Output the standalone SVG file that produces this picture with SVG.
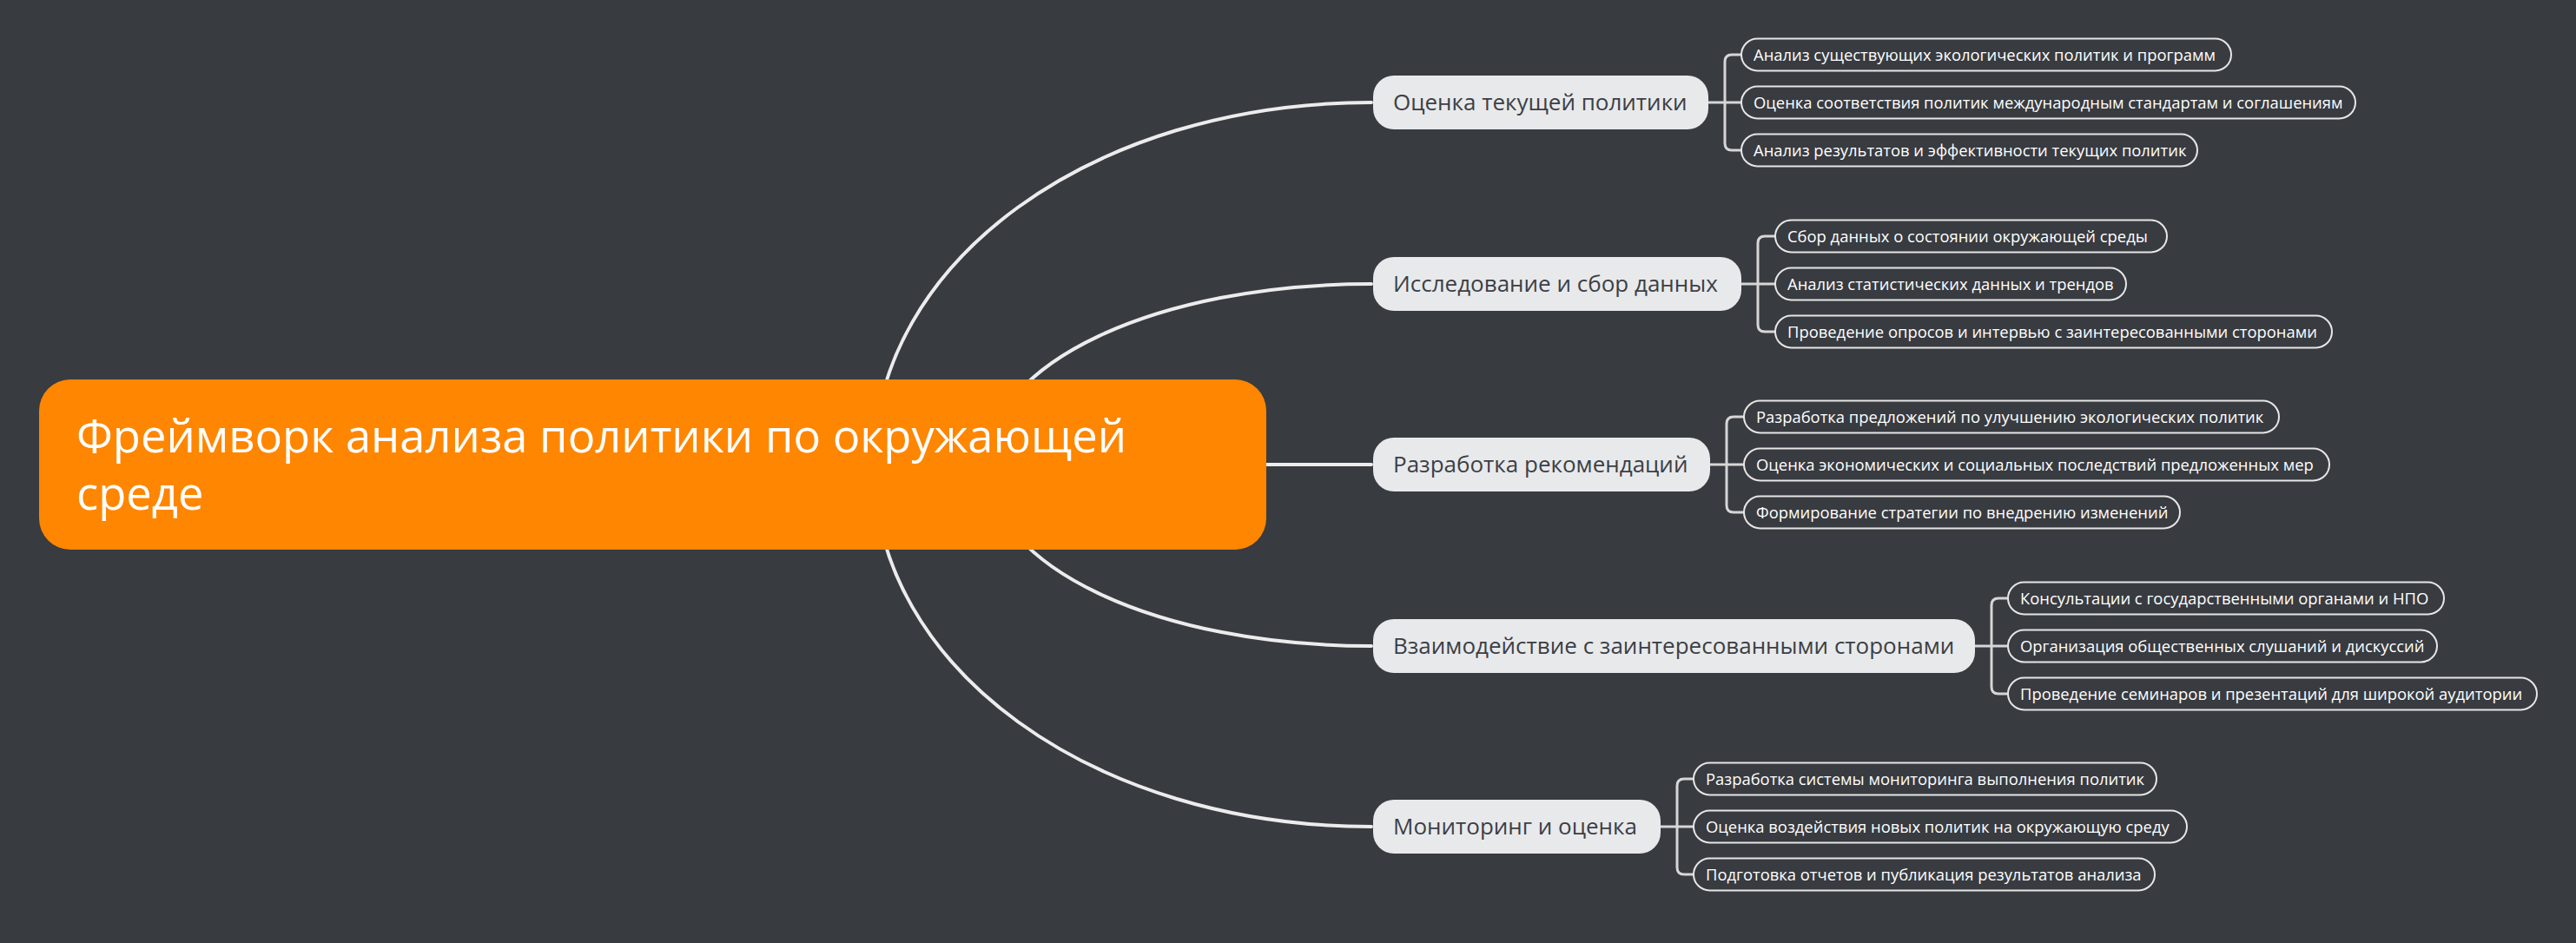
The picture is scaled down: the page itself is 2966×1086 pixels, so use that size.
<svg xmlns="http://www.w3.org/2000/svg" width="2966" height="1086" viewBox="0 0 2966 1086">
<style>
.bg{fill:#383b40}
.curve{fill:none;stroke:#ececec;stroke-width:4;stroke-linecap:round}
.brk{fill:none;stroke:#d6d6d6;stroke-width:3}
.root{fill:#ff8600}
.rootT{font-family:"Open Sans","Noto Sans",sans-serif;font-size:52.5px;fill:#ffffff}
.br{fill:#e8e9eb}
.brT{font-family:"Open Sans","Noto Sans",sans-serif;font-size:26px;fill:#3c3f45}
.ch{fill:#383b40;stroke:#e6e6e6;stroke-width:2}
.chT{font-family:"Open Sans","Noto Sans",sans-serif;font-size:18.4px;fill:#ffffff}
</style>
<rect class="bg" x="0" y="0" width="2966" height="1086"/>
<g id="connectors">
<path class="curve" d="M1006,535 C1006,301 1258,118 1579,118"/>
<path class="curve" d="M1137,535 C1137,418 1331,327 1579,327"/>
<path class="curve" d="M1400,535 H1579"/>
<path class="curve" d="M1137,535 C1137,652 1331,744 1579,744"/>
<path class="curve" d="M1006,535 C1006,769 1258,952 1579,952"/>
<path class="brk" d="M1967,118 H2005 M2005,63 H1994 Q1986,63 1986,71 V165 Q1986,173 1994,173 H2005"/>
<path class="brk" d="M2005,327 H2044 M2044,272 H2032 Q2024,272 2024,280 V374 Q2024,382 2032,382 H2044"/>
<path class="brk" d="M1969,535 H2008 M2008,480 H1996 Q1988,480 1988,488 V582 Q1988,590 1996,590 H2008"/>
<path class="brk" d="M2274,744 H2312 M2312,689 H2301 Q2293,689 2293,697 V791 Q2293,799 2301,799 H2312"/>
<path class="brk" d="M1912,952 H1950 M1950,897 H1939 Q1931,897 1931,905 V999 Q1931,1007 1939,1007 H1950"/>
</g>
<g id="root">
<rect class="root" x="45" y="437" width="1413" height="196" rx="36"/>
<text class="rootT" x="88" y="521">Фреймворк анализа политики по окружающей</text>
<text class="rootT" x="88" y="587">среде</text>
</g>
<g id="b1">
<rect class="br" x="1581" y="87" width="386" height="62" rx="24"/>
<text class="brT" x="1604" y="127">Оценка текущей политики</text>
</g>
<g id="b1c1"><rect class="ch" x="2005" y="44.5" width="564" height="37" rx="18.5"/><text class="chT" x="2019" y="69.5">Анализ существующих экологических политик и программ</text></g>
<g id="b1c2"><rect class="ch" x="2005" y="99.5" width="707" height="37" rx="18.5"/><text class="chT" x="2019" y="124.5">Оценка соответствия политик международным стандартам и соглашениям</text></g>
<g id="b1c3"><rect class="ch" x="2005" y="154.5" width="525" height="37" rx="18.5"/><text class="chT" x="2019" y="179.5">Анализ результатов и эффективности текущих политик</text></g>
<g id="b2">
<rect class="br" x="1581" y="296" width="424" height="62" rx="24"/>
<text class="brT" x="1604" y="336">Исследование и сбор данных</text>
</g>
<g id="b2c1"><rect class="ch" x="2044" y="253.5" width="451" height="37" rx="18.5"/><text class="chT" x="2058" y="278.5">Сбор данных о состоянии окружающей среды</text></g>
<g id="b2c2"><rect class="ch" x="2044" y="308.5" width="404" height="37" rx="18.5"/><text class="chT" x="2058" y="333.5">Анализ статистических данных и трендов</text></g>
<g id="b2c3"><rect class="ch" x="2044" y="363.5" width="641" height="37" rx="18.5"/><text class="chT" x="2058" y="388.5">Проведение опросов и интервью с заинтересованными сторонами</text></g>
<g id="b3">
<rect class="br" x="1581" y="504" width="388" height="62" rx="24"/>
<text class="brT" x="1604" y="544">Разработка рекомендаций</text>
</g>
<g id="b3c1"><rect class="ch" x="2008" y="461.5" width="616" height="37" rx="18.5"/><text class="chT" x="2022" y="486.5">Разработка предложений по улучшению экологических политик</text></g>
<g id="b3c2"><rect class="ch" x="2008" y="516.5" width="674" height="37" rx="18.5"/><text class="chT" x="2022" y="541.5">Оценка экономических и социальных последствий предложенных мер</text></g>
<g id="b3c3"><rect class="ch" x="2008" y="571.5" width="502" height="37" rx="18.5"/><text class="chT" x="2022" y="596.5">Формирование стратегии по внедрению изменений</text></g>
<g id="b4">
<rect class="br" x="1581" y="713" width="693" height="62" rx="24"/>
<text class="brT" x="1604" y="753">Взаимодействие с заинтересованными сторонами</text>
</g>
<g id="b4c1"><rect class="ch" x="2312" y="670.5" width="502" height="37" rx="18.5"/><text class="chT" x="2326" y="695.5">Консультации с государственными органами и НПО</text></g>
<g id="b4c2"><rect class="ch" x="2312" y="725.5" width="494" height="37" rx="18.5"/><text class="chT" x="2326" y="750.5">Организация общественных слушаний и дискуссий</text></g>
<g id="b4c3"><rect class="ch" x="2312" y="780.5" width="609" height="37" rx="18.5"/><text class="chT" x="2326" y="805.5">Проведение семинаров и презентаций для широкой аудитории</text></g>
<g id="b5">
<rect class="br" x="1581" y="921" width="331" height="62" rx="24"/>
<text class="brT" x="1604" y="961">Мониторинг и оценка</text>
</g>
<g id="b5c1"><rect class="ch" x="1950" y="878.5" width="533" height="37" rx="18.5"/><text class="chT" x="1964" y="903.5">Разработка системы мониторинга выполнения политик</text></g>
<g id="b5c2"><rect class="ch" x="1950" y="933.5" width="568" height="37" rx="18.5"/><text class="chT" x="1964" y="958.5">Оценка воздействия новых политик на окружающую среду</text></g>
<g id="b5c3"><rect class="ch" x="1950" y="988.5" width="531" height="37" rx="18.5"/><text class="chT" x="1964" y="1013.5">Подготовка отчетов и публикация результатов анализа</text></g>
</svg>
